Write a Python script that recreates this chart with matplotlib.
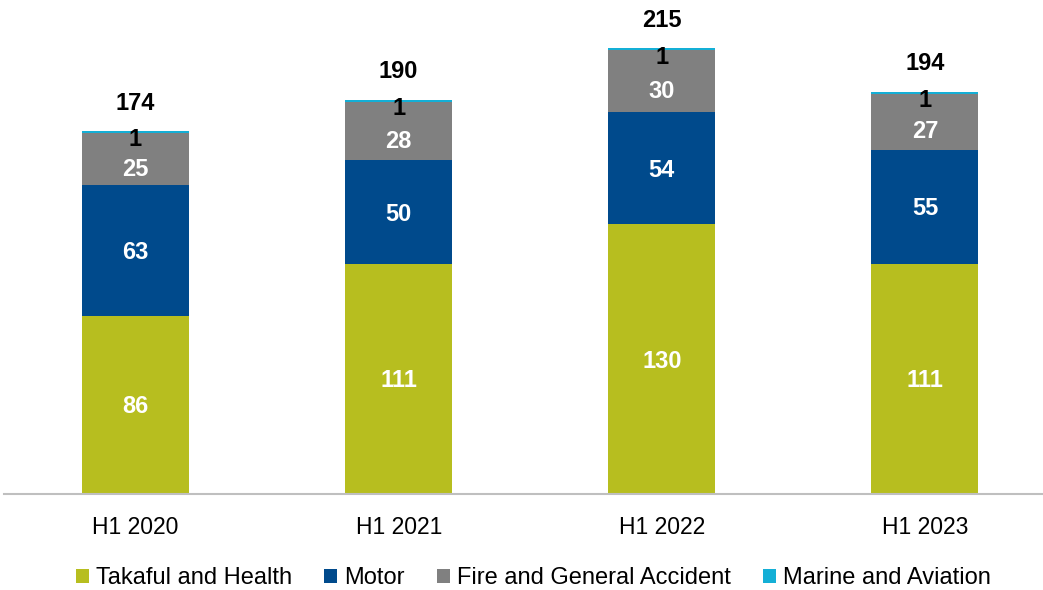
import matplotlib.pyplot as plt
import numpy as np

plt.rcParams['font.family'] = ['Liberation Sans', 'DejaVu Sans']

periods = ['H1 2020', 'H1 2021', 'H1 2022', 'H1 2023']
segments = ['Takaful and Health', 'Motor', 'Fire and General Accident', 'Marine and Aviation']
takaful = [86, 111, 130, 111]
motor = [63, 50, 54, 55]
fire = [25, 28, 30, 27]
marine = [1, 1, 1, 1]
totals = [174, 190, 215, 194]

colors = ['#B7BE1F', '#004A8C', '#808080', '#14AFD6']
series = [takaful, motor, fire, marine]
# vertical nudge (data units) for each segment's value label
label_shift = [-1.0, -1.0, -4.8, -4.3]

fig = plt.figure(figsize=(10.43, 5.9), dpi=100)
ax = fig.add_axes([4 / 1043, 96 / 590, 1052.5 / 1043, 494 / 590])

x = np.arange(len(periods))
bottom = np.zeros(len(periods))
for name, vals, col, dy in zip(segments, series, colors, label_shift):
    ax.bar(x, vals, width=0.407, bottom=bottom, color=col, label=name, zorder=2)
    for xi, b, v in zip(x, bottom, vals):
        if name == 'Marine and Aviation':
            # thin top slice: label sits just under the bar top
            ax.text(xi, b + v + dy, str(v), ha='center', va='center',
                    color='black', fontsize=17, fontweight='bold', zorder=3)
        else:
            ax.text(xi, b + v / 2 + dy, str(v), ha='center', va='center',
                    color='white', fontsize=17, fontweight='bold', zorder=3)
    bottom = bottom + np.array(vals)

for xi, t, top in zip(x, totals, bottom):
    ax.text(xi, top + 13.5, str(t), ha='center', va='center',
            color='black', fontsize=17, fontweight='bold')

ax.set_xlim(-0.5, 3.5)
ax.set_ylim(0, 238.2)
ax.set_xticks(x)
ax.set_xticklabels(periods, fontsize=16.5)
ax.tick_params(axis='x', length=0, pad=16)
ax.set_yticks([])
for s in ['top', 'right', 'left']:
    ax.spines[s].set_visible(False)
ax.spines['bottom'].set_color('#BFBFBF')
ax.spines['bottom'].set_linewidth(1.5)

fig.legend(loc='center', bbox_to_anchor=(533.5 / 1043, 1 - 578 / 590), ncol=4,
           frameon=False, fontsize=17, handlelength=0.55, handleheight=0.55,
           handletextpad=0.3, columnspacing=1.35, borderaxespad=0)

fig.savefig('out.png', dpi=100)
